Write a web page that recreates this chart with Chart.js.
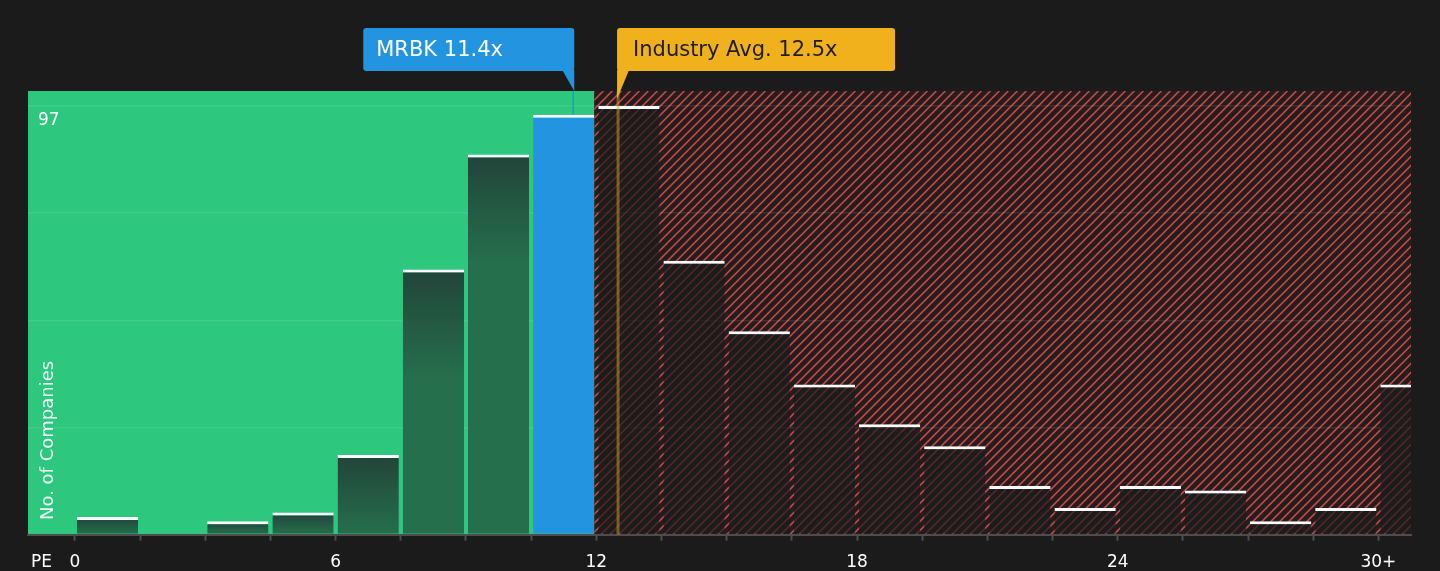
<!DOCTYPE html>
<html>
<head>
<meta charset="utf-8">
<script src="https://cdn.jsdelivr.net/npm/chart.js@4"></script>
<style>
  html, body { margin: 0; padding: 0; background: #1b1b1b; }
  #wrap { width: 1440px; height: 571px; }
</style>
</head>
<body>
<div id="wrap"><canvas id="pe-chart" width="1440" height="571"></canvas></div>
<script>
"use strict";

// PE distribution of companies, bins 1.5x wide
const BIN_STARTS = [0, 1.5, 3, 4.5, 6, 7.5, 9, 10.5, 12, 13.5, 15, 16.5, 18, 19.5, 21, 22.5, 24, 25.5, 27, 28.5, 30];
const COMPANY_COUNTS = [4, 0, 3, 5, 18, 60, 86, 95, 97, 62, 46, 34, 25, 20, 11, 6, 11, 10, 3, 6, 34];
const BIN_WIDTH = 1.5;

const X_LABEL_VALUES = [0, 6, 12, 18, 24, 30];
const X_LABEL_TEXTS = ["0", "6", "12", "18", "24", "30+"];
const Y_GRID_VALUES = [0, 24.25, 48.5, 72.75, 97];
const Y_LABEL_VALUES = [97];

const COMPANY_NAME = "MRBK";
const COMPANY_PE = 11.4;
const INDUSTRY_PE = 12.5;

const GREEN = "#2dc87e";
const BLUE = "#2394e0";
const GOLD = "#f0b11c";

Chart.defaults.font.family = "'DejaVu Sans', sans-serif";

const companyBin = BIN_STARTS.findIndex(s => COMPANY_PE >= s && COMPANY_PE < s + BIN_WIDTH);

function barColor(ctx) {
  const chart = ctx.chart;
  const area = chart.chartArea;
  if (!area || ctx.type !== "data") return "rgba(0,0,0,0)";
  if (ctx.dataIndex === companyBin) return BLUE;
  if (ctx.raw.x > BIN_STARTS[companyBin] + BIN_WIDTH) return "rgba(27,27,27,0.7)";
  const top = chart.scales.y.getPixelForValue(ctx.raw.y);
  const g = chart.ctx.createLinearGradient(0, top, 0, Math.min(top + 110, area.bottom));
  g.addColorStop(0, "#22443a");
  g.addColorStop(1, "#266f4c");
  return g;
}

const backgroundPlugin = {
  id: "zones",
  beforeDraw(chart) {
    const { ctx, chartArea: a } = chart;
    const bar = chart.getDatasetMeta(0).data[companyBin];
    const split = bar.x + bar.width / 2;
    ctx.save();
    ctx.fillStyle = "#1b1b1b";
    ctx.fillRect(0, 0, chart.width, chart.height);
    ctx.fillStyle = GREEN;
    ctx.fillRect(a.left, a.top, split - a.left, a.bottom - a.top);
    ctx.fillStyle = "#221e1e";
    ctx.fillRect(split, a.top, a.right - split, a.bottom - a.top);
    ctx.beginPath();
    ctx.rect(split, a.top, a.right - split, a.bottom - a.top);
    ctx.clip();
    ctx.strokeStyle = "#c84545";
    ctx.lineWidth = 1.7;
    const h = a.bottom - a.top;
    ctx.beginPath();
    for (let x = split - h; x < a.right + 10; x += 9) {
      ctx.moveTo(x, a.bottom);
      ctx.lineTo(x + h, a.top);
    }
    ctx.stroke();
    ctx.restore();
  }
};

function roundBox(ctx, x, y, w, h, r) {
  ctx.beginPath();
  ctx.moveTo(x + r, y);
  ctx.lineTo(x + w - r, y);
  ctx.quadraticCurveTo(x + w, y, x + w, y + r);
  ctx.lineTo(x + w, y + h - r);
  ctx.quadraticCurveTo(x + w, y + h, x + w - r, y + h);
  ctx.lineTo(x + r, y + h);
  ctx.quadraticCurveTo(x, y + h, x, y + h - r);
  ctx.lineTo(x, y + r);
  ctx.quadraticCurveTo(x, y, x + r, y);
  ctx.closePath();
  ctx.fill();
}

const markerPlugin = {
  id: "markers",
  afterDatasetsDraw(chart) {
    const { ctx, chartArea: a, scales } = chart;
    const mx = scales.x.getPixelForValue(COMPANY_PE);
    const ix = scales.x.getPixelForValue(INDUSTRY_PE);
    const barTop = scales.y.getPixelForValue(COMPANY_COUNTS[companyBin]);
    ctx.save();

    // industry average line
    ctx.strokeStyle = "rgba(210,160,40,0.5)";
    ctx.lineWidth = 3;
    ctx.beginPath();
    ctx.moveTo(ix, a.top);
    ctx.lineTo(ix, a.bottom);
    ctx.stroke();

    // company line
    ctx.strokeStyle = BLUE;
    ctx.lineWidth = 1.5;
    ctx.beginPath();
    ctx.moveTo(mx + 3, a.top);
    ctx.lineTo(mx + 3, barTop);
    ctx.stroke();

    const boxTop = 28, boxH = 43;
    ctx.font = "21px 'DejaVu Sans', sans-serif";
    ctx.textBaseline = "middle";

    // company label
    const mRight = mx + 4;
    const mLeft = mRight - 211;
    ctx.fillStyle = BLUE;
    roundBox(ctx, mLeft, boxTop, 211, boxH, 3);
    ctx.beginPath();
    ctx.moveTo(mRight - 12, boxTop + boxH - 1);
    ctx.lineTo(mRight, boxTop + boxH - 1);
    ctx.lineTo(mRight, a.top);
    ctx.closePath();
    ctx.fill();
    ctx.fillStyle = "#ffffff";
    ctx.fillText(COMPANY_NAME + " " + COMPANY_PE.toFixed(1) + "x", mLeft + 13, boxTop + boxH / 2 + 1);

    // industry label
    const iLeft = ix - 1;
    ctx.fillStyle = GOLD;
    roundBox(ctx, iLeft, boxTop, 278, boxH, 3);
    ctx.beginPath();
    ctx.moveTo(iLeft, boxTop + boxH - 1);
    ctx.lineTo(iLeft + 12, boxTop + boxH - 1);
    ctx.lineTo(iLeft, a.top + 8);
    ctx.closePath();
    ctx.fill();
    ctx.fillStyle = "#1e1e1e";
    ctx.fillText("Industry Avg. " + INDUSTRY_PE.toFixed(1) + "x", iLeft + 16, boxTop + boxH / 2 + 1);

    // axis texts
    ctx.fillStyle = "#ffffff";
    ctx.font = "17px 'DejaVu Sans', sans-serif";
    ctx.textBaseline = "middle";
    ctx.fillText("PE", a.left + 3, 563);

    ctx.font = "18px 'DejaVu Sans', sans-serif";
    ctx.translate(a.left + 20, 520);
    ctx.rotate(-Math.PI / 2);
    ctx.fillStyle = "rgba(255,255,255,0.92)";
    ctx.fillText("No. of Companies", 0, 0);
    ctx.restore();
  }
};

const config = {
  type: "bar",
  data: {
    datasets: [
      {
        data: BIN_STARTS.map((s, i) => ({ x: s + BIN_WIDTH / 2, y: COMPANY_COUNTS[i] })),
        backgroundColor: barColor,
        borderColor: "#ffffff",
        borderWidth: { top: 3, right: 0, bottom: 0, left: 0 },
        borderSkipped: "bottom",
        barPercentage: 0.94,
        categoryPercentage: 1
      }
    ]
  },
  options: {
    responsive: false,
    animation: false,
    layout: { padding: { left: 8, right: 29, top: 91, bottom: -14 } },
    plugins: { legend: { display: false }, tooltip: { enabled: false } },
    scales: {
      x: {
        type: "linear",
        offset: false,
        min: -1.08,
        max: 30.75,
        afterBuildTicks: scale => {
          scale.ticks = BIN_STARTS.map(v => ({ value: v }));
        },
        ticks: {
          color: "#ffffff",
          font: { size: 17 },
          padding: 12,
          maxRotation: 0,
          autoSkip: false,
          callback: value => {
            const i = X_LABEL_VALUES.indexOf(value);
            return i >= 0 ? X_LABEL_TEXTS[i] : "";
          }
        },
        grid: {
          drawOnChartArea: false,
          offset: false,
          tickLength: 6,
          tickWidth: 2,
          tickColor: "#4d4d4d"
        },
        border: { color: "#4d4d4d", width: 2 }
      },
      y: {
        min: 0,
        max: 100.4,
        afterBuildTicks: scale => {
          scale.ticks = Y_GRID_VALUES.map(v => ({ value: v }));
        },
        ticks: {
          mirror: true,
          padding: 10,
          labelOffset: 15,
          color: "#ffffff",
          font: { size: 17 },
          callback: value => (Y_LABEL_VALUES.includes(value) ? String(value) : "")
        },
        grid: {
          color: "rgba(255,255,255,0.09)",
          lineWidth: 1.5,
          drawTicks: false
        },
        border: { display: false }
      }
    }
  },
  plugins: [backgroundPlugin, markerPlugin]
};

window.onload = function() {
  const ctx = document.getElementById("pe-chart").getContext("2d");
  window.peChart = new Chart(ctx, config);
};
</script>
</body>
</html>
